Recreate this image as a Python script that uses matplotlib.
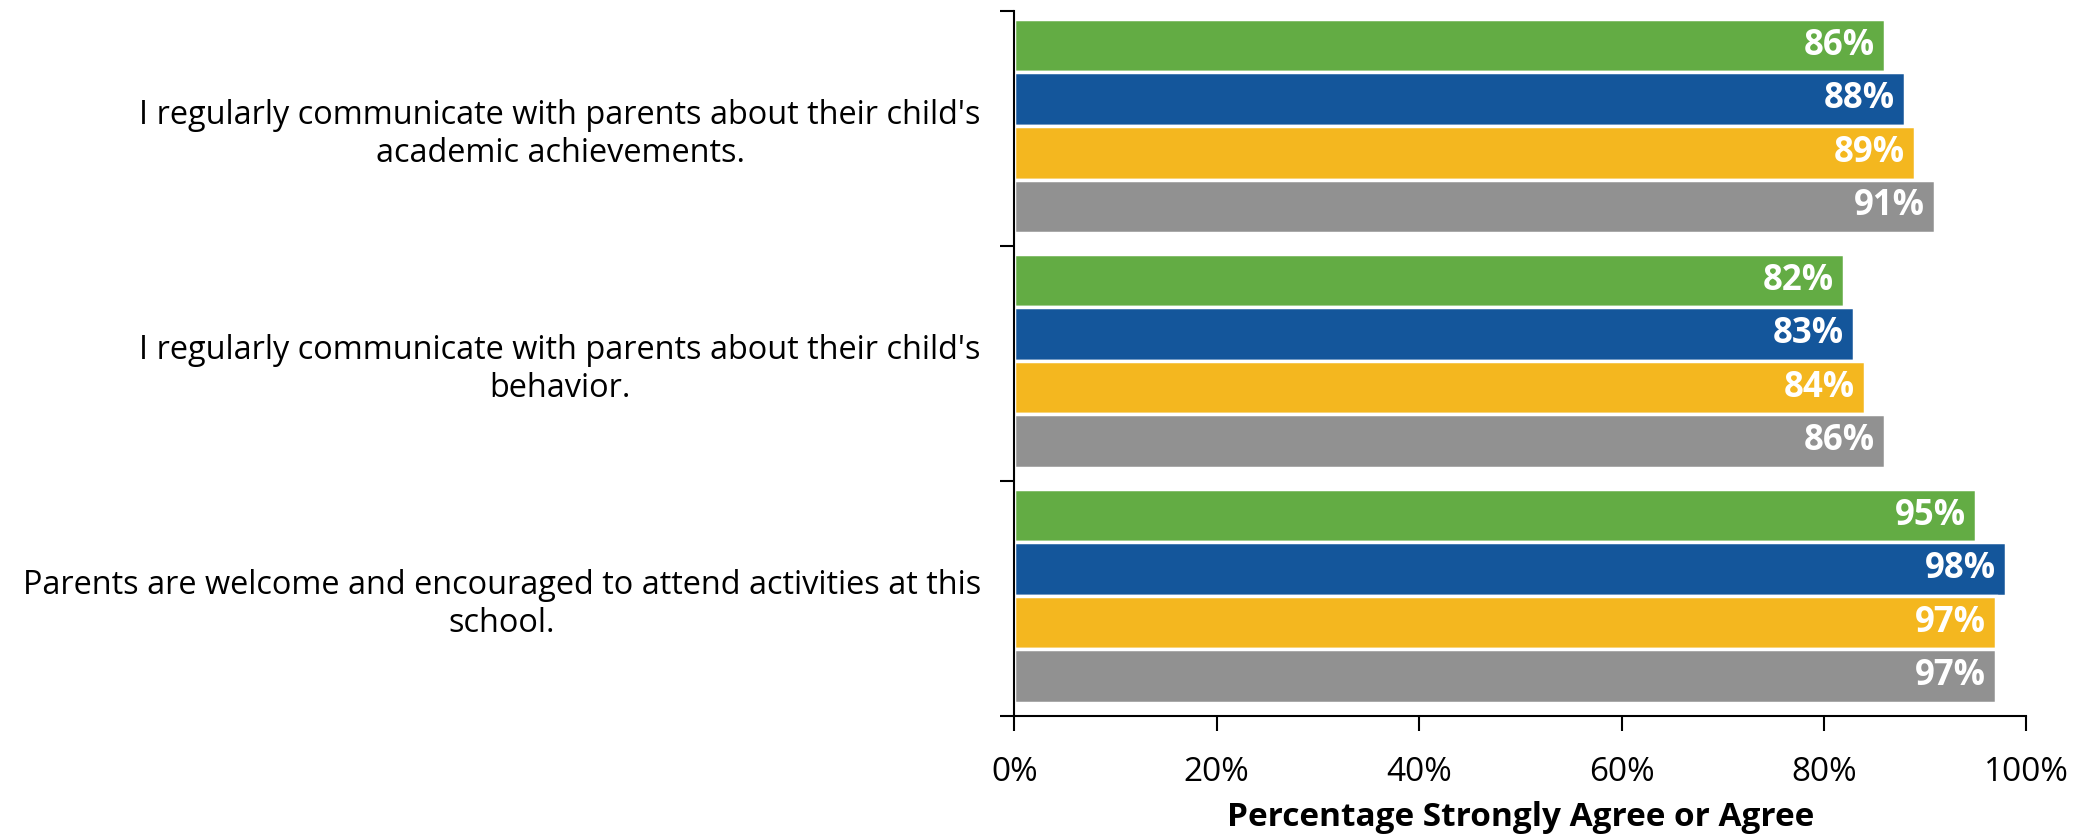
import numpy as np
import matplotlib.pyplot as plt

plt.rcParams['font.family'] = ['Open Sans', 'DejaVu Sans']

categories = [
    "I regularly communicate with parents about their child's\nacademic achievements.",
    "I regularly communicate with parents about their child's\nbehavior.",
    "Parents are welcome and encouraged to attend activities at this\nschool.",
]
series_1 = [86, 82, 95]
series_2 = [88, 83, 98]
series_3 = [89, 84, 97]
series_4 = [91, 86, 97]
colors = ['#63AC44', '#14569B', '#F4B71F', '#919191']

fig = plt.figure(figsize=(20.87, 8.38), dpi=100)
ax = fig.add_axes([0.486, 0.146, 0.485, 0.841])

y = np.arange(len(categories))
pitch = 0.228
all_series = [series_1, series_2, series_3, series_4]
for i, vals in enumerate(all_series):
    pos = y + (i - 1.5) * pitch - 0.01
    bars = ax.barh(pos, vals, height=pitch, color=colors[i], edgecolor='white', linewidth=2.5)
    for b, v in zip(bars, vals):
        ax.text(v - 1.0, b.get_y() + b.get_height() / 2, "%d%%" % v,
                ha='right', va='center', color='white', fontsize=25, fontweight='bold')

ax.set_ylim(2.5, -0.5)
ax.set_xlim(0, 100)
ax.set_yticks([-0.5, 0.5, 1.5, 2.5])
ax.set_yticklabels([])
ax.set_yticks(y, minor=True)
ax.set_yticklabels(categories, minor=True, fontsize=23.4, multialignment='center')
ax.tick_params(axis='y', which='minor', length=0, pad=24)
ax.tick_params(axis='y', which='major', length=10, width=1.5)

ax.set_xticks(np.arange(0, 101, 20))
ax.set_xticklabels(["%d%%" % t for t in range(0, 101, 20)], fontsize=24)
ax.tick_params(axis='x', length=11, width=1.5, pad=18)
ax.set_xlabel('Percentage Strongly Agree or Agree', fontsize=24, fontweight='bold', labelpad=9)

for s in ['top', 'right']:
    ax.spines[s].set_visible(False)
ax.spines['left'].set_linewidth(1.5)
ax.spines['bottom'].set_linewidth(1.5)

plt.savefig('out.png', dpi=100)
